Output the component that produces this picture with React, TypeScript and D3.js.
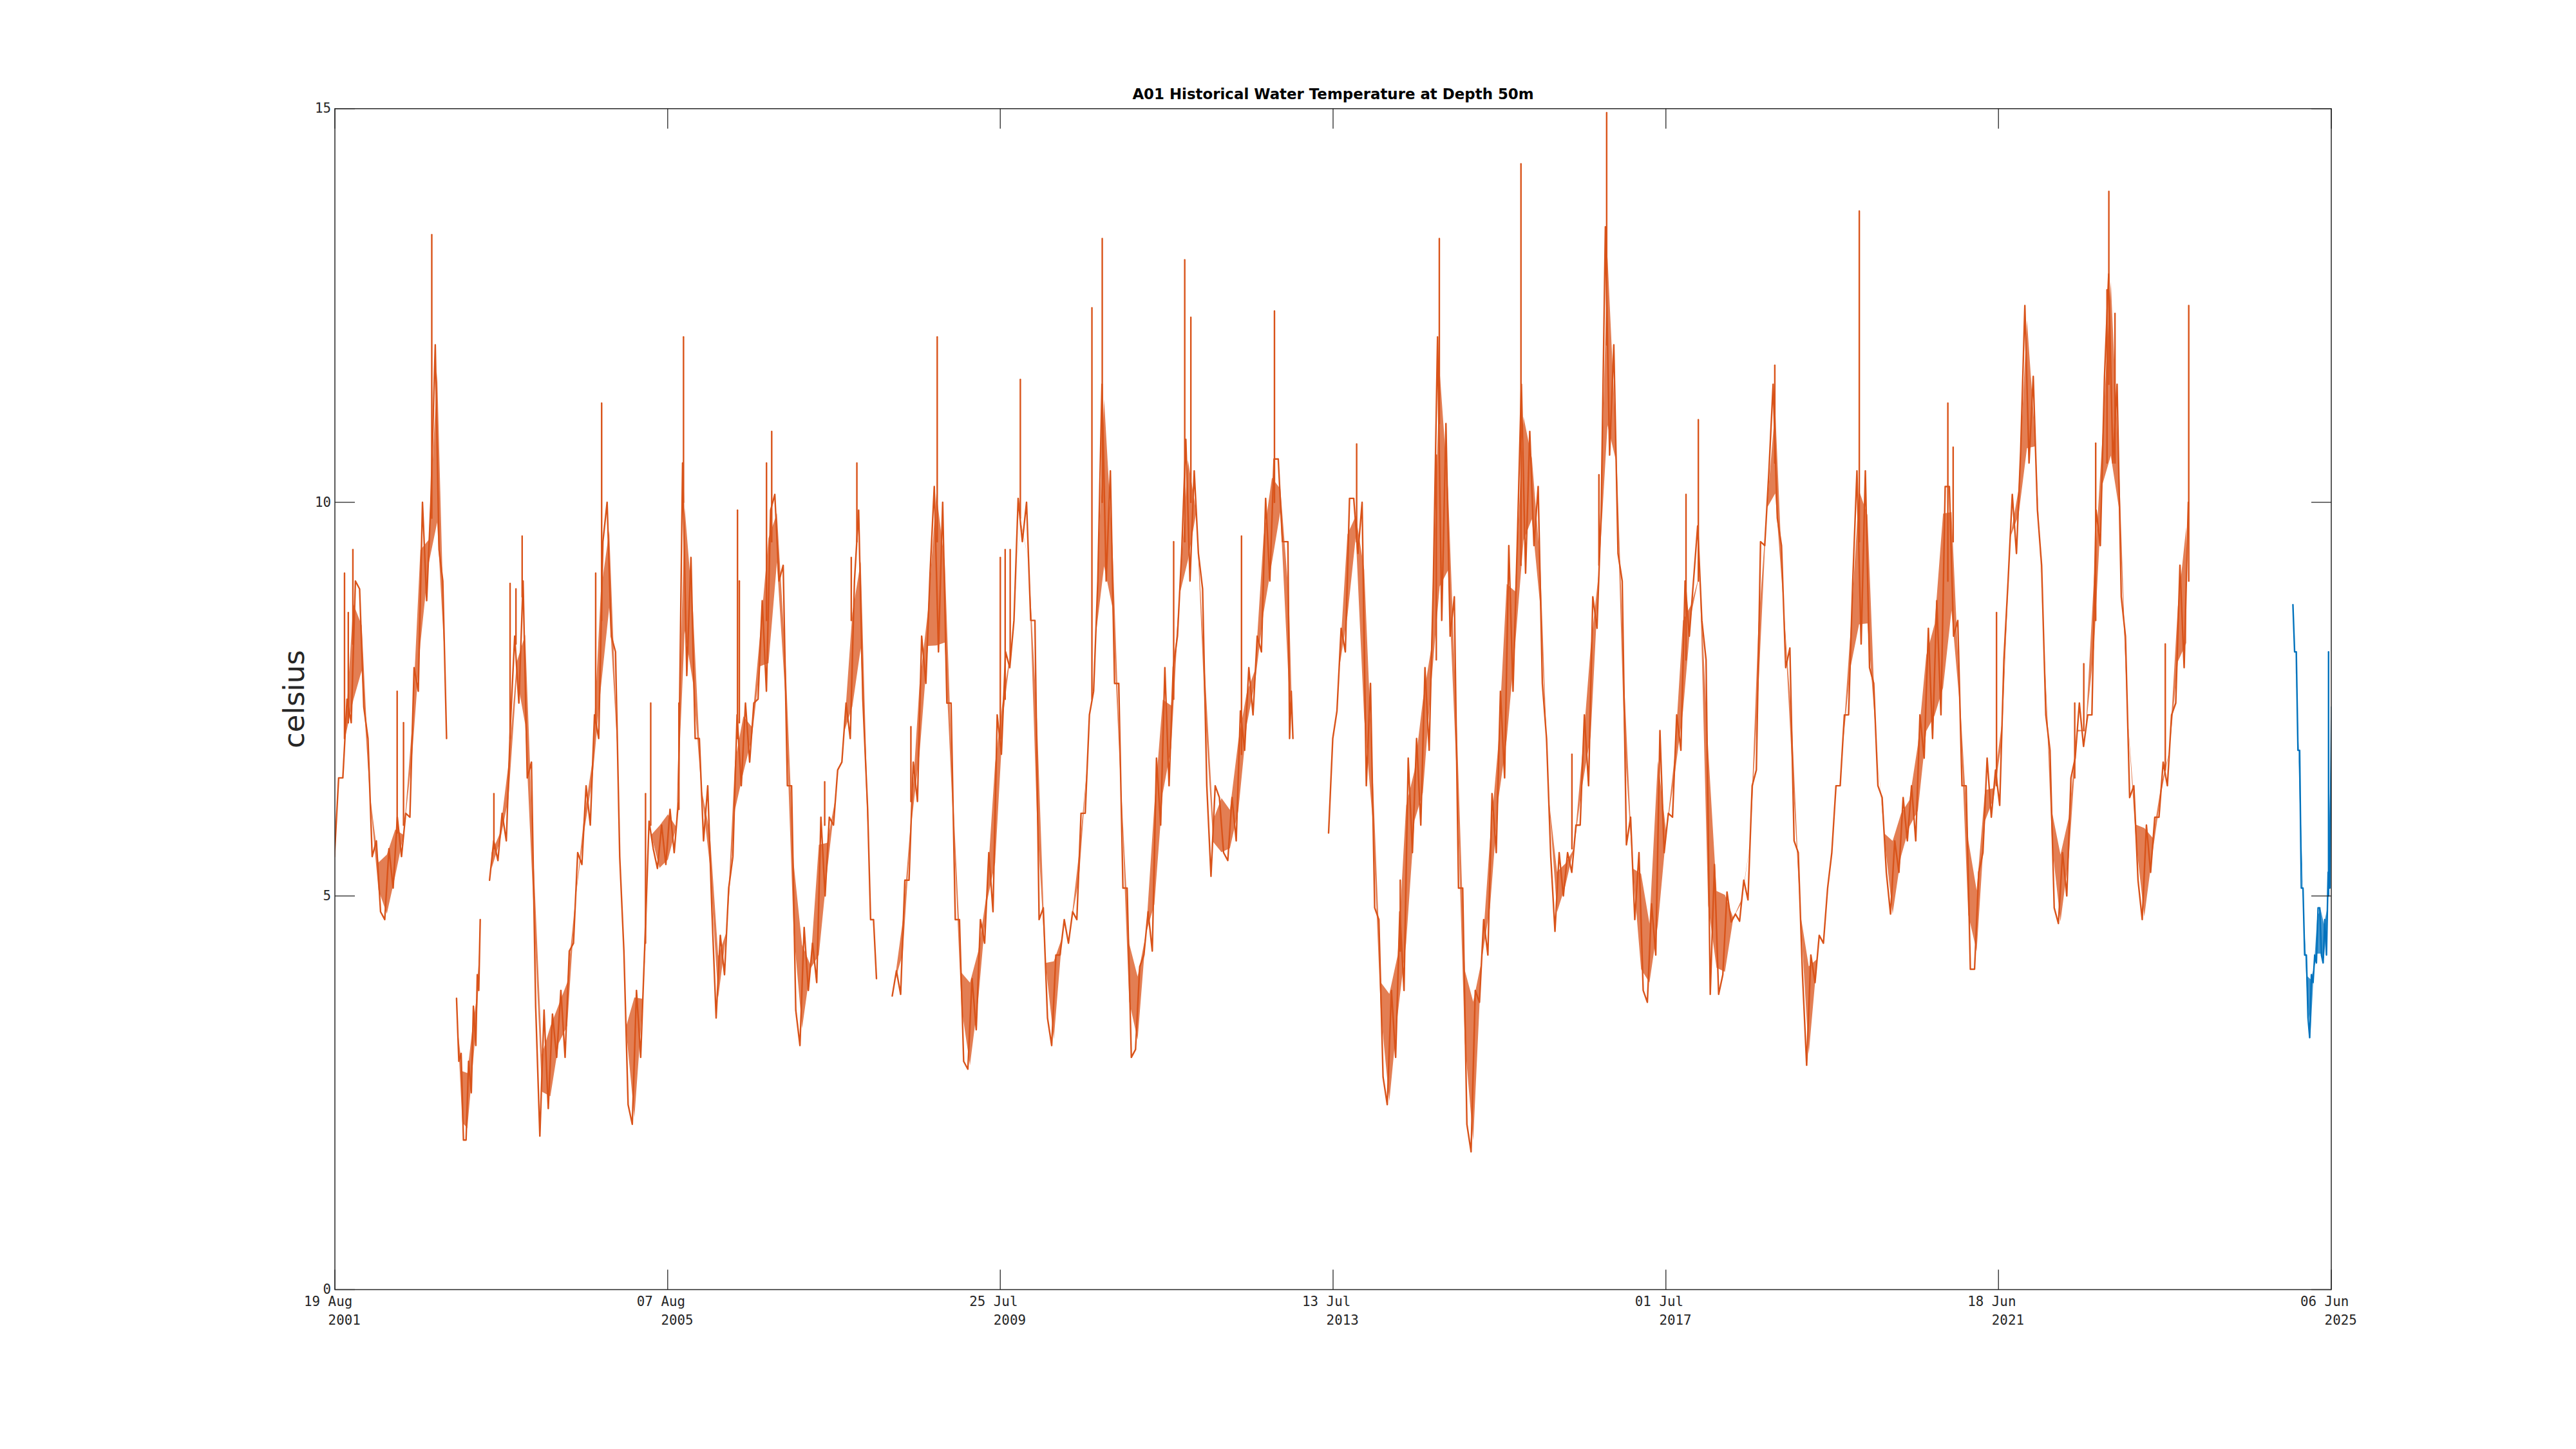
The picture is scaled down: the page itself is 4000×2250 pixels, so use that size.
import React from 'react';
import * as d3 from 'd3';

const W = 4000;
const H = 2250;
const PLOT = { left: 520, right: 3620, top: 168.75, bottom: 2002.5 };

const TITLE = 'A01 Historical Water Temperature at Depth 50m';
const Y_LABEL = 'celsius';
const X_DOMAIN = ['2001-08-19', '2025-06-06'];
const X_TICKS = ['2001-08-19', '2005-08-07', '2009-07-25', '2013-07-13', '2017-07-01', '2021-06-18', '2025-06-06'];
const Y_DOMAIN = [0, 15];
const Y_TICKS = [0, 5, 10, 15];

// [decimal year, low °C, high °C]: body of the noisy trace
type Bin = [number, number, number];
// [decimal year, base °C, peak °C]: isolated spikes
type Spike = [number, number, number];

const segA: Bin[] = [
  [2001.65, 5.5, 6.5], [2001.75, 6.5, 7.5], [2001.85, 7.2, 9.0], [2001.95, 7.4, 8.9],
  [2002.05, 5.5, 7.0], [2002.15, 4.8, 5.7], [2002.25, 4.7, 5.6], [2002.35, 5.1, 6.0],
  [2002.45, 5.5, 6.05], [2002.55, 6.0, 7.9], [2002.65, 7.6, 10.0], [2002.75, 8.75, 10.0],
  [2002.85, 9.4, 12.0], [2002.94, 7.0, 9.0],
];

const segB: Bin[] = [
  [2003.095, 2.9, 3.7], [2003.15, 1.9, 3.0], [2003.21, 1.9, 2.9], [2003.27, 2.5, 3.6],
  [2003.32, 3.1, 4.0], [2003.355, 3.8, 4.7],
];

const segC: Bin[] = [
  [2003.50, 5.2, 5.7], [2003.60, 5.45, 6.05], [2003.70, 5.7, 7.2], [2003.80, 7.45, 8.3],
  [2003.90, 6.5, 9.0], [2004.00, 3.6, 6.7], [2004.10, 1.95, 3.55], [2004.20, 2.3, 3.5],
  [2004.30, 2.95, 3.8], [2004.40, 2.95, 4.3], [2004.50, 4.4, 5.55], [2004.60, 5.4, 6.4],
  [2004.70, 5.9, 7.3], [2004.80, 7.0, 9.5], [2004.90, 8.3, 10.0], [2005.00, 5.5, 8.1],
  [2005.10, 2.35, 4.3], [2005.20, 2.1, 3.8], [2005.30, 2.95, 4.4], [2005.40, 5.6, 5.95],
  [2005.50, 5.35, 5.9], [2005.60, 5.4, 6.1], [2005.70, 5.55, 6.2], [2005.80, 7.8, 10.5],
  [2005.90, 7.0, 9.3], [2006.00, 5.7, 7.0], [2006.10, 4.8, 6.4], [2006.20, 3.45, 4.5],
  [2006.30, 4.0, 5.1], [2006.40, 5.5, 7.3], [2006.50, 6.4, 7.45], [2006.60, 6.7, 7.45],
  [2006.70, 7.5, 8.75], [2006.80, 7.6, 9.9], [2006.90, 9.0, 10.1], [2007.00, 6.4, 9.2],
  [2007.10, 3.55, 6.4], [2007.20, 3.1, 4.6], [2007.30, 3.8, 4.4], [2007.40, 3.9, 6.0],
  [2007.50, 5.0, 6.0], [2007.60, 5.9, 6.6], [2007.70, 6.7, 7.45], [2007.80, 7.0, 9.0],
  [2007.90, 7.5, 9.9], [2008.00, 4.7, 6.1], [2008.07, 3.95, 4.7],
];

const segD: Bin[] = [
  [2008.30, 3.73, 4.05], [2008.40, 3.75, 5.2], [2008.50, 5.2, 6.7], [2008.60, 6.2, 8.3],
  [2008.70, 7.7, 9.1], [2008.80, 8.1, 10.2], [2008.90, 7.45, 10.0], [2009.00, 4.7, 7.45],
  [2009.10, 2.9, 4.7], [2009.20, 2.8, 3.95], [2009.30, 3.3, 4.7], [2009.40, 4.4, 5.55],
  [2009.50, 4.8, 7.3], [2009.60, 6.8, 8.1], [2009.70, 7.9, 8.5], [2009.80, 9.5, 10.05],
  [2009.90, 8.5, 10.0], [2010.00, 4.7, 8.5], [2010.10, 3.45, 4.85], [2010.20, 3.1, 4.25],
  [2010.30, 4.25, 4.7], [2010.40, 4.4, 4.8], [2010.50, 4.7, 6.05], [2010.60, 6.05, 7.3],
  [2010.70, 7.6, 9.0], [2010.80, 9.0, 11.5], [2010.90, 7.7, 10.4], [2011.00, 5.1, 7.7],
  [2011.10, 2.95, 5.1], [2011.20, 3.05, 4.1], [2011.30, 4.25, 4.8], [2011.40, 4.3, 6.75],
  [2011.50, 5.9, 7.9], [2011.60, 6.4, 7.9], [2011.70, 8.3, 9.35], [2011.80, 9.0, 10.8],
  [2011.90, 9.35, 10.4], [2012.00, 6.4, 8.9], [2012.10, 5.25, 6.4], [2012.20, 5.55, 6.25],
  [2012.30, 5.45, 6.25], [2012.40, 5.7, 7.35], [2012.50, 6.85, 7.9], [2012.60, 7.3, 8.3],
  [2012.70, 8.1, 10.05], [2012.80, 9.0, 10.55], [2012.90, 9.5, 10.55], [2013.00, 7.0, 9.5],
  [2013.04, 7.0, 7.6],
];

const segE: Bin[] = [
  [2013.50, 5.8, 7.0], [2013.60, 7.35, 8.4], [2013.70, 8.1, 10.05], [2013.80, 9.35, 10.05],
  [2013.90, 6.4, 10.0], [2014.00, 4.85, 7.7], [2014.10, 2.7, 4.7], [2014.20, 2.35, 3.8],
  [2014.30, 2.95, 4.8], [2014.40, 3.8, 6.75], [2014.50, 5.55, 7.0], [2014.60, 5.9, 7.9],
  [2014.70, 6.85, 9.0], [2014.80, 8.5, 12.1], [2014.90, 8.3, 11.0], [2015.00, 5.1, 8.8],
  [2015.10, 2.1, 5.1], [2015.20, 1.75, 3.8], [2015.30, 3.65, 4.7], [2015.40, 4.25, 6.3],
  [2015.50, 5.55, 7.6], [2015.60, 6.5, 9.45], [2015.70, 7.6, 9.45], [2015.80, 9.1, 11.5],
  [2015.90, 9.45, 10.9], [2016.00, 7.7, 10.2], [2016.10, 5.5, 7.0], [2016.20, 4.55, 5.55],
  [2016.30, 5.0, 5.55], [2016.40, 5.3, 5.9], [2016.50, 5.9, 7.3], [2016.60, 6.4, 8.8],
  [2016.70, 8.4, 9.9], [2016.80, 10.6, 13.5], [2016.90, 9.35, 12.0], [2017.00, 5.65, 9.0],
  [2017.10, 4.7, 6.0], [2017.20, 3.8, 5.55], [2017.30, 3.65, 4.9], [2017.40, 4.25, 7.1],
  [2017.50, 5.55, 6.05], [2017.60, 6.0, 7.3], [2017.70, 6.85, 9.0], [2017.80, 8.3, 9.0],
  [2017.90, 8.5, 9.7], [2018.00, 3.75, 8.0], [2018.10, 3.75, 5.4], [2018.20, 4.0, 5.05],
  [2018.30, 4.67, 4.77], [2018.40, 4.68, 5.2], [2018.50, 4.95, 6.4], [2018.60, 6.6, 9.5],
  [2018.70, 9.45, 10.4], [2018.80, 9.8, 11.5], [2018.90, 7.9, 9.45], [2019.00, 5.7, 8.15],
  [2019.10, 4.0, 5.55], [2019.20, 2.85, 4.25], [2019.30, 3.9, 4.5], [2019.40, 4.4, 5.1],
  [2019.50, 5.55, 6.4], [2019.60, 6.4, 7.3], [2019.70, 7.3, 9.0], [2019.80, 8.2, 10.4],
  [2019.90, 7.9, 10.4], [2020.00, 6.4, 7.7], [2020.10, 5.3, 6.25], [2020.20, 4.77, 5.7],
  [2020.30, 5.3, 6.25], [2020.40, 5.7, 6.4], [2020.50, 5.7, 7.3], [2020.60, 6.75, 8.4],
  [2020.70, 7.0, 8.75], [2020.80, 7.3, 10.2], [2020.90, 8.3, 10.2], [2021.00, 6.4, 8.5],
  [2021.10, 4.07, 6.4], [2021.20, 4.07, 5.3], [2021.30, 5.55, 6.75], [2021.40, 6.0, 6.6],
  [2021.50, 6.15, 8.0], [2021.60, 9.0, 10.1], [2021.70, 9.35, 10.65], [2021.80, 10.5, 12.5],
  [2021.90, 9.9, 11.6], [2022.00, 7.3, 9.2], [2022.10, 4.85, 6.85], [2022.20, 4.65, 5.55],
  [2022.30, 5.0, 6.5], [2022.40, 6.75, 7.45], [2022.50, 6.9, 7.3], [2022.60, 7.3, 9.9],
  [2022.70, 9.45, 11.6], [2022.80, 10.5, 12.9], [2022.90, 8.8, 11.5], [2023.00, 6.25, 8.3],
  [2023.10, 5.2, 6.4], [2023.20, 4.7, 5.9], [2023.30, 5.3, 6.0], [2023.40, 6.0, 6.7],
  [2023.50, 6.4, 7.3], [2023.60, 7.45, 9.2], [2023.70, 7.9, 10.0],
];

const segRecent: Bin[] = [
  [2024.98, 8.1, 8.7], [2025.02, 6.85, 8.1], [2025.06, 5.1, 6.85], [2025.10, 4.25, 5.1],
  [2025.14, 3.45, 4.25], [2025.18, 3.2, 4.0], [2025.22, 3.9, 4.25], [2025.26, 4.15, 4.85],
  [2025.30, 4.25, 4.85], [2025.34, 4.15, 4.7], [2025.38, 4.25, 5.3], [2025.42, 5.1, 7.4],
];

const spikesHistorical: Spike[] = [
  [2001.745, 7.0, 9.1], [2001.79, 7.2, 8.6], [2001.845, 8.2, 9.4], [2002.373, 5.8, 7.6],
  [2002.449, 5.9, 7.2], [2002.786, 9.8, 13.4],
  [2003.527, 5.6, 6.3], [2003.72, 7.0, 8.97], [2003.79, 8.2, 8.9], [2003.864, 8.8, 9.57],
  [2004.739, 7.2, 9.1], [2004.81, 8.5, 11.26], [2005.333, 4.4, 6.3], [2005.395, 5.9, 7.45],
  [2005.731, 6.1, 7.45], [2005.786, 10.0, 12.1], [2006.43, 7.0, 9.9], [2006.452, 7.2, 9.0],
  [2006.776, 8.5, 10.5], [2006.838, 9.5, 10.9], [2007.47, 5.9, 6.45], [2007.787, 8.5, 9.3],
  [2007.854, 9.5, 10.5],
  [2008.497, 6.2, 7.15], [2008.81, 9.5, 12.1], [2009.562, 7.0, 9.3], [2009.62, 7.5, 9.4],
  [2009.68, 8.0, 9.4], [2009.801, 9.8, 11.56], [2010.655, 7.5, 12.47], [2010.778, 10.0, 13.35],
  [2011.63, 7.5, 9.5], [2011.762, 9.5, 13.08], [2011.835, 10.0, 12.35], [2012.438, 6.8, 9.57],
  [2012.83, 10.0, 12.43],
  [2013.81, 9.5, 10.74], [2014.33, 4.3, 5.2], [2014.76, 8.0, 10.6], [2014.796, 11.0, 13.35],
  [2015.77, 9.2, 14.3], [2016.377, 5.6, 6.8], [2016.698, 9.2, 10.35], [2016.79, 12.0, 14.95],
  [2017.736, 8.0, 10.1], [2017.883, 9.0, 11.05], [2018.795, 10.5, 11.74], [2019.803, 9.5, 13.7],
  [2020.857, 9.0, 11.26], [2020.92, 9.5, 10.7], [2021.437, 6.4, 8.6], [2022.37, 6.5, 7.45],
  [2022.478, 7.1, 7.95], [2022.62, 8.5, 10.75], [2022.755, 10.5, 12.7], [2022.777, 11.5, 13.95],
  [2022.85, 10.5, 12.4], [2023.45, 6.6, 8.2], [2023.73, 9.0, 12.5],
];

const spikesRecent: Spike[] = [[2025.395, 5.0, 8.1]];

const HISTORICAL = [segA, segB, segC, segD, segE];
const RECENT = [segRecent];

const ORANGE = '#D95319';
const BLUE = '#0072BD';
const AXIS = '#262626';
const MONO = "'DejaVu Sans Mono', monospace";
const SANS = "'DejaVu Sans', sans-serif";

function decYearToDate(y: number): Date {
  const yr = Math.floor(y);
  const s = Date.UTC(yr, 0, 1);
  const e = Date.UTC(yr + 1, 0, 1);
  return new Date(s + (y - yr) * (e - s));
}

type Pt = [Date, number];
type Band = [Date, number, number];

function envelope(bins: Bin[]) {
  const trace: Pt[] = [];
  const band: Band[] = [];
  const mids = bins.map((b) => (b[1] + b[2]) / 2);
  bins.forEach((b, i) => {
    const [t, lo, hi] = b;
    const gaps: number[] = [];
    if (i > 0) gaps.push(t - bins[i - 1][0]);
    if (i < bins.length - 1) gaps.push(bins[i + 1][0] - t);
    const q = (gaps.length ? Math.min(...gaps) : 0.1) / 4;
    const mid = mids[i];
    let rising = true;
    if (i < bins.length - 1) rising = mids[i + 1] >= mid;
    else if (i > 0) rising = mid >= mids[i - 1];
    const loPt: Pt = [decYearToDate(rising ? t - q : t + q), lo];
    const hiPt: Pt = [decYearToDate(rising ? t + q : t - q), hi];
    if (rising) trace.push(loPt, hiPt);
    else trace.push(hiPt, loPt);
    // part of the bin's spread not explained by the seasonal trend
    const prev = i > 0 ? mids[i - 1] : mid;
    const next = i < bins.length - 1 ? mids[i + 1] : mid;
    const span = i > 0 && i < bins.length - 1 ? Math.abs(next - prev) / 2 : Math.abs(next - prev);
    const noise = Math.max(0, hi - lo - span);
    band.push([decYearToDate(t), mid - noise / 2, mid + noise / 2]);
  });
  return { trace, band };
}

export default function App() {
  const x = d3
    .scaleUtc()
    .domain(X_DOMAIN.map((s) => new Date(s + 'T00:00:00Z')))
    .range([PLOT.left, PLOT.right]);
  const y = d3.scaleLinear().domain(Y_DOMAIN).range([PLOT.bottom, PLOT.top]);
  const line = d3
    .line<Pt>()
    .x((d) => x(d[0]))
    .y((d) => y(d[1]));
  const area = d3
    .area<Band>()
    .x((d) => x(d[0]))
    .y0((d) => y(d[1]))
    .y1((d) => y(d[2]));

  const fmtDay = d3.utcFormat('%d %b');
  const fmtYear = d3.utcFormat('%Y');
  const tickDates = X_TICKS.map((s) => new Date(s + 'T00:00:00Z'));
  const tickLen = 31;
  const charW = 20.83 * 0.602;

  const series = [
    { segs: HISTORICAL, spikes: spikesHistorical, color: ORANGE, key: 'h' },
    { segs: RECENT, spikes: spikesRecent, color: BLUE, key: 'r' },
  ];

  return (
    <svg
      width={W}
      height={H}
      viewBox={`0 0 ${W} ${H}`}
      style={{ position: 'absolute', left: 0, top: 0, background: '#fff' }}
    >
      <rect x={0} y={0} width={W} height={H} fill="#fff" />
      <defs>
        <clipPath id="plotClip">
          <rect x={PLOT.left} y={PLOT.top} width={PLOT.right - PLOT.left} height={PLOT.bottom - PLOT.top} />
        </clipPath>
      </defs>
      <g clipPath="url(#plotClip)" strokeLinejoin="round" strokeLinecap="round">
        {series.map((s) => (
          <g key={s.key}>
            {s.segs.map((seg, i) => {
              const env = envelope(seg);
              return (
                <g key={i}>
                  <path d={area(env.band) || ''} fill={s.color} fillOpacity={0.75} stroke="none" />
                  <path d={line(env.trace) || ''} fill="none" stroke={s.color} strokeWidth={2.4} />
                </g>
              );
            })}
            {s.spikes.map((sp, i) => (
              <path
                key={'s' + i}
                d={line([[decYearToDate(sp[0]), sp[1]], [decYearToDate(sp[0]), sp[2]]]) || ''}
                fill="none"
                stroke={s.color}
                strokeWidth={2.4}
              />
            ))}
          </g>
        ))}
      </g>
      <g stroke={AXIS} strokeWidth={1.3}>
        {tickDates.map((d, i) => (
          <g key={'xt' + i}>
            <line x1={x(d)} x2={x(d)} y1={PLOT.bottom} y2={PLOT.bottom - tickLen} />
            <line x1={x(d)} x2={x(d)} y1={PLOT.top} y2={PLOT.top + tickLen} />
          </g>
        ))}
        {Y_TICKS.map((v, i) => (
          <g key={'yt' + i}>
            <line x1={PLOT.left} x2={PLOT.left + tickLen} y1={y(v)} y2={y(v)} />
            <line x1={PLOT.right} x2={PLOT.right - tickLen} y1={y(v)} y2={y(v)} />
          </g>
        ))}
      </g>
      <rect
        x={PLOT.left}
        y={PLOT.top}
        width={PLOT.right - PLOT.left}
        height={PLOT.bottom - PLOT.top}
        fill="none"
        stroke={AXIS}
        strokeWidth={1.5}
      />
      <g fontFamily={MONO} fontSize={20.83} fill={AXIS}>
        {tickDates.map((d, i) => (
          <g key={'xl' + i}>
            <text x={x(d) - 48} y={2028}>{fmtDay(d)}</text>
            <text x={x(d) - 48 + 3 * charW} y={2056.5}>{fmtYear(d)}</text>
          </g>
        ))}
      </g>
      <g fontFamily={MONO} fontSize={20.83} fill={AXIS} textAnchor="end">
        {Y_TICKS.map((v, i) => (
          <text key={'yl' + i} x={514} y={y(v) + 6.5}>{v}</text>
        ))}
      </g>
      <text
        x={(PLOT.left + PLOT.right) / 2}
        y={154}
        textAnchor="middle"
        fontFamily={SANS}
        fontWeight="bold"
        fontSize={22.9}
        fill="#000"
      >
        {TITLE}
      </text>
      <text
        transform={`translate(472, ${(PLOT.top + PLOT.bottom) / 2}) rotate(-90)`}
        textAnchor="middle"
        fontFamily={SANS}
        fontSize={45}
        fill={AXIS}
      >
        {Y_LABEL}
      </text>
    </svg>
  );
}
